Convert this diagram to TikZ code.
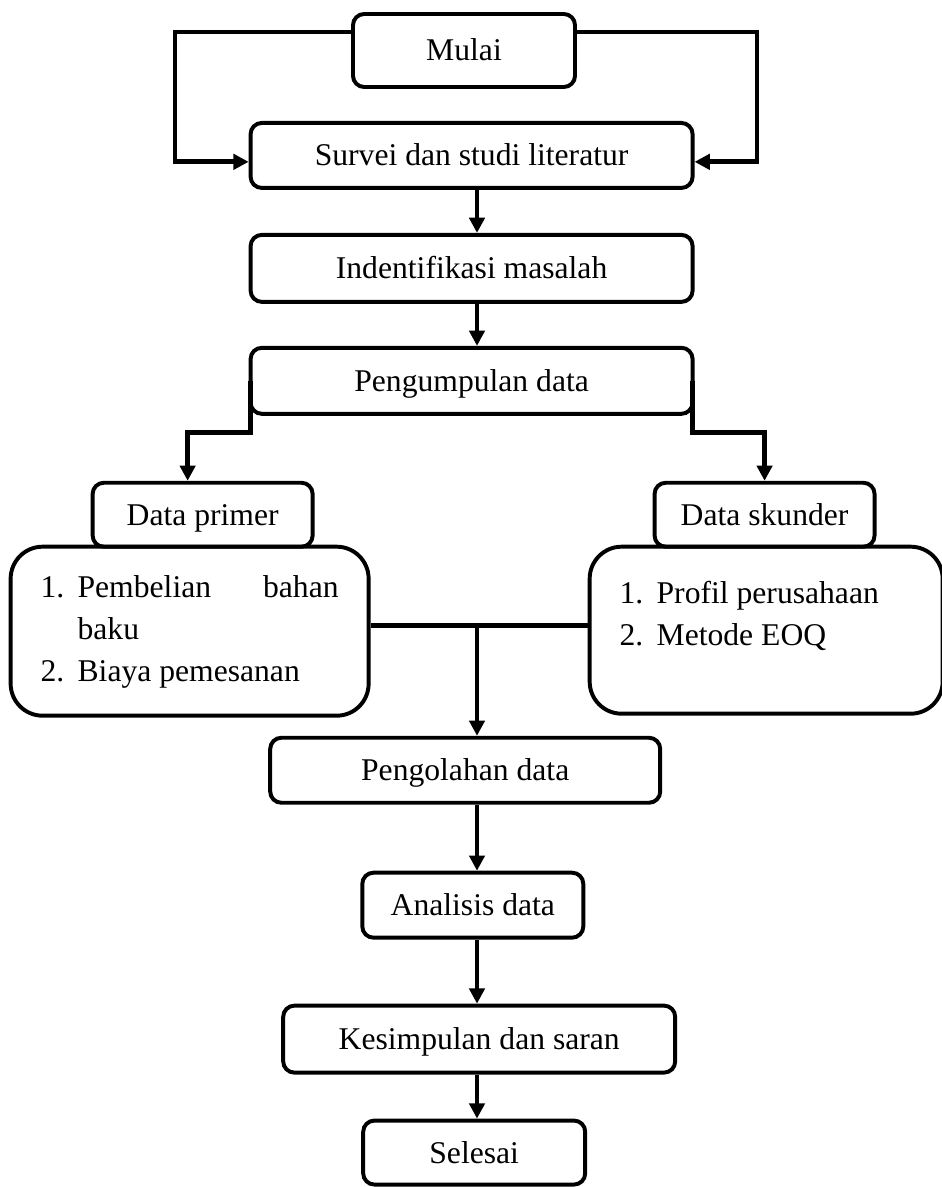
\documentclass[tikz,border=0pt]{standalone}
\usepackage{fontspec}
\setmainfont{Liberation Serif}
\usetikzlibrary{positioning,arrows.meta}

\tikzset{
  box/.style={draw, line width=2.8pt, rounded corners=0.28cm, inner sep=0pt,
    font=\fontsize{22.5pt}{30pt}\selectfont, text height=14.9pt, text depth=0pt},
  listbox/.style={draw, line width=2.8pt, rounded corners=0.8cm, inner sep=0pt,
    font=\fontsize{22.5pt}{30pt}\selectfont},
  link/.style={line width=3.4pt},
  flow/.style={link, -{Triangle[length=0.38cm,width=0.38cm]}},
}

\begin{document}
\begin{tikzpicture}
  \useasboundingbox (0,0) rectangle (23.525,-29.675);

  % Nodes
  \node[box, minimum width=5.55cm, minimum height=1.825cm]                       (mulai) at (11.6,-1.2625) {Mulai};
  \node[box, minimum width=11.05cm, minimum height=1.625cm, below=0.8cm of mulai, xshift=0.19cm] (survei) {Survei dan studi literatur};
  \node[box, minimum width=11.05cm, minimum height=1.675cm, below=1.075cm of survei] (ident) {Indentifikasi masalah};
  \node[box, minimum width=11.05cm, minimum height=1.65cm, below=1.05cm of ident]    (peng) {Pengumpulan data};
  \node[box, minimum width=5.5cm, minimum height=1.6cm, below=1.625cm of peng.south west, xshift=-1.15cm] (primer) {Data primer};
  \node[box, minimum width=5.5cm, minimum height=1.6cm, below=1.625cm of peng.south east, xshift=1.75cm]  (skunder) {Data skunder};
  \node[listbox, minimum width=8.95cm, minimum height=4.225cm, below=-0.1cm of primer, xshift=-0.325cm] (primlist)
    {\begin{tabular}{@{}p{0.925cm}@{}l@{}}
      1. & \makebox[6.525cm][s]{Pembelian\hfill bahan}\\
         & baku\\
      2. & Biaya pemesanan
    \end{tabular}};
  \node[listbox, minimum width=8.825cm, minimum height=4.175cm, below=-0.1cm of skunder, xshift=0.04cm] (skunlist)
    {\begin{tabular}{@{}p{0.925cm}@{}p{6.4cm}@{}}
      1. & Profil perusahaan\\
      2. & Metode EOQ\\[19.7pt]
    \end{tabular}};
  \node[box, minimum width=9.75cm, minimum height=1.625cm, below=8.0cm of peng, xshift=-0.16cm] (olah) {Pengolahan data};
  \node[box, minimum width=5.525cm, minimum height=1.625cm, below=1.65cm of olah, xshift=0.19cm] (analisis) {Analisis data};
  \node[box, minimum width=9.8cm, minimum height=1.675cm, below=1.6cm of analisis, xshift=0.16cm] (simpul) {Kesimpulan dan saran};
  \node[box, minimum width=5.55cm, minimum height=1.6cm, below=1.1cm of simpul, xshift=-0.125cm]   (selesai) {Selesai};

  \coordinate (spine) at (11.925,0);
  \coordinate (merge) at ([yshift=0.14cm]primlist.east);

  % Edges
  \draw[flow] ([yshift=0.46cm]mulai.west) -- ++(-4.4cm,0) |- ([yshift=-0.16cm]survei.west);
  \draw[flow] ([yshift=0.46cm]mulai.east) -- ++(4.5cm,0) |- ([yshift=-0.16cm]survei.east);
  \draw[flow] (survei.south -| spine) -- (ident.north -| spine);
  \draw[flow] (ident.south -| spine) -- (peng.north -| spine);
  \draw[flow] ([xshift=0.05cm]peng.west) -- ++(0,-1.3cm) -| ([xshift=-0.375cm]primer.north);
  \draw[flow] ([xshift=-0.05cm]peng.east) -- ++(0,-1.3cm) -| (skunder.north);
  \draw[link] (merge) -- (merge -| skunlist.west); % both lists join here
  \draw[flow] (merge -| spine) -- (olah.north -| spine);
  \draw[flow] (olah.south -| spine) -- (analisis.north -| spine);
  \draw[flow] (analisis.south -| spine) -- (simpul.north -| spine);
  \draw[flow] (simpul.south -| spine) -- (selesai.north -| spine);
\end{tikzpicture}
\end{document}
